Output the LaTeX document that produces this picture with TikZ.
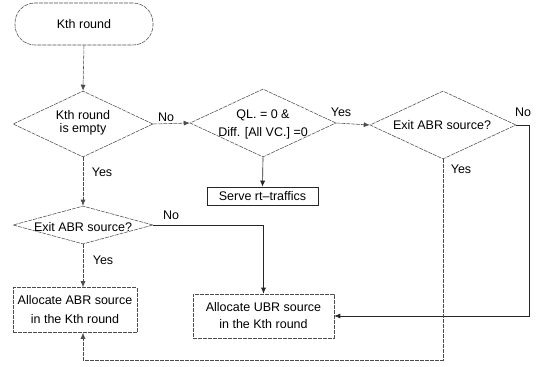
\documentclass[tikz,border=0pt]{standalone}
\usepackage{fontspec}
\setmainfont{Liberation Sans}
\usetikzlibrary{shapes.geometric,arrows.meta}
\tikzset{
  base/.style={font=\fontsize{12.5}{14}\selectfont},
  faint/.style={draw=black!70, line width=0.55pt, dash pattern=on 4pt off 1pt},
  firm/.style={draw=black!85, line width=0.65pt},
  tip/.style={-{Latex[length=6pt,width=5pt]}},
  term/.style={base, faint, rounded corners=20pt, minimum width=138pt, minimum height=42pt, inner sep=0pt},
  dia/.style={faint, shape=diamond, inner sep=0pt},
  txt/.style={base, inner sep=0pt, align=center},
  boxa/.style={base, faint, minimum width=124pt, minimum height=45pt, inner sep=0pt, align=center},
  boxs/.style={base, firm, minimum width=111pt, minimum height=18pt, inner sep=0pt},
  lbl/.style={base, inner sep=0pt},
}
\begin{document}
\begin{tikzpicture}[x=1pt,y=-1pt]
\useasboundingbox (0,0) rectangle (536,367);
% shapes
\node[term] (start) at (84,24) {Kth round};
\node[dia, minimum width=140pt, minimum height=66pt] (d1) at (83,124) {};
\node[txt, font=\fontsize{12.5}{12.5}\selectfont] (t1) at (83,123) {Kth round\\is empty};
\node[dia, minimum width=146pt, minimum height=68pt] (d2) at (263,123) {};
\node[txt, font=\fontsize{12.5}{18}\selectfont] (t2) at (263,124) {QL. = 0 \&\\Diff. [All VC.] =0};
\node[dia, minimum width=146pt, minimum height=68pt] (d3) at (443,125) {};
\node[txt] (t3) at (442,125) {Exit ABR source?};
\node[dia, minimum width=140pt, minimum height=38pt] (d4) at (83,225) {};
\node[txt] (t4) at (83,227) {Exit ABR source?};
\node[boxs] (serve) at (262.5,196) {Serve rt–traffics};
\node[boxa, font=\fontsize{12.5}{19}\selectfont] (abr) at (75,310) {Allocate ABR source\\in the Kth round};
\node[boxa, minimum width=141pt, minimum height=44pt, font=\fontsize{12.5}{17}\selectfont] (ubr) at (263.5,316) {Allocate UBR source\\in the Kth round};
% connectors
\draw[faint, tip] (start.south) -- (d1.north);
\draw[faint, tip] (d1.east) -- (d2.west);
\draw[firm, tip] (d2.south) -- (serve.north);
\draw[faint, tip] (d2.east) -- (d3.west);
\coordinate (r1) at (529,125);
\draw[firm, tip] (d3.east) -- (r1) |- (ubr.east);
\draw[faint, tip] (d1.south) -- (d4.north);
\draw[firm, tip] (d4.east) -| (ubr.north);
\draw[faint, tip] (d4.south) -- (d4.south |- abr.north);
\coordinate (b1) at (443,360);
\draw[faint, tip] (d3.south) -- (b1) -| ([xshift=8pt]abr.south);
% labels
\node[lbl] (no1) at (166,117) {No};
\node[lbl] (yes1) at (341,112) {Yes};
\node[lbl] (no3) at (523,112) {No};
\node[lbl] (yes3) at (461,169) {Yes};
\node[lbl] (yes2) at (102,172) {Yes};
\node[lbl] (no4) at (171,215) {No};
\node[lbl] (yes4) at (103,260) {Yes};
\end{tikzpicture}
\end{document}
